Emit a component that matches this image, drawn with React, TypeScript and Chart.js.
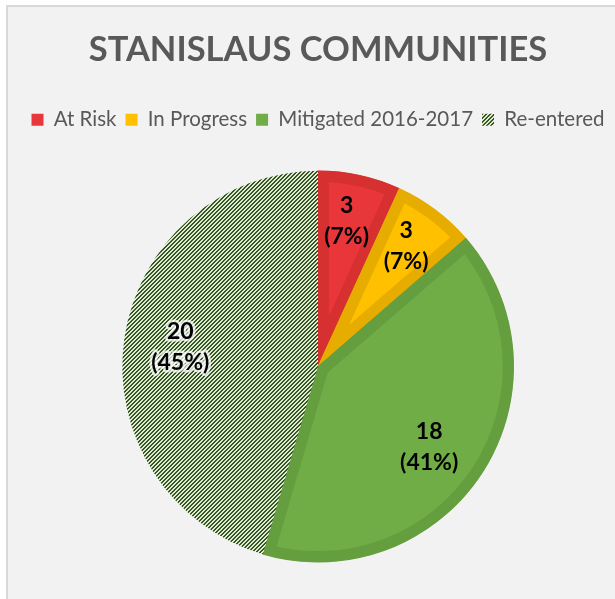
import React, { useEffect, useRef } from "react";
import { Chart, registerables } from "chart.js";

Chart.register(...registerables);

const TITLE = "STANISLAUS COMMUNITIES";
const categories = ["At Risk", "In Progress", "Mitigated 2016-2017", "Re-entered"];
const values = [3, 3, 18, 20];
const fillColors = ["#E8363A", "#FFC000", "#70AD47", "hatch"];
const borderColors = ["#D63031", "#E6AC00", "#659E3F", "rgba(0,0,0,0)"];
const borderWidths = [11, 11, 11, 0];
const labelRadius = [0.755, 0.76, 0.7, 0.71];
const labelAngleShift = [-0.02, -0.01, 0.055, 0];

const FONT = "Lato, 'Open Sans', sans-serif";

function makeHatch(): CanvasPattern | string {
  const c = document.createElement("canvas");
  const p = 4;
  c.width = p;
  c.height = p;
  const ctx = c.getContext("2d");
  if (!ctx) return "#375623";
  for (let x = 0; x < p; x++) {
    for (let y = 0; y < p; y++) {
      const k = (x + y) % p;
      ctx.fillStyle = k < 2 ? "#375623" : "#DDEBD3";
      ctx.fillRect(x, y, 1, 1);
    }
  }
  return ctx.createPattern(c, "repeat") || "#375623";
}

const labelPlugin = {
  id: "sliceLabels",
  afterDatasetsDraw(chart: any) {
    const ctx = chart.ctx;
    const meta = chart.getDatasetMeta(0);
    const data = chart.data.datasets[0].data as number[];
    const total = data.reduce((a, b) => a + b, 0);
    ctx.save();
    ctx.font = `bold 23px ${FONT}`;
    ctx.textAlign = "center";
    ctx.textBaseline = "middle";
    meta.data.forEach((arc: any, i: number) => {
      const { x, y, startAngle, endAngle, outerRadius } = arc.getProps(
        ["x", "y", "startAngle", "endAngle", "outerRadius"],
        true
      );
      const mid = (startAngle + endAngle) / 2 + labelAngleShift[i];
      const r = outerRadius * labelRadius[i];
      const cx = x + Math.cos(mid) * r;
      const cy = y + Math.sin(mid) * r;
      const lines = [String(data[i]), `(${Math.round((data[i] / total) * 100)}%)`];
      const lh = 31;
      lines.forEach((t, j) => {
        const ty = cy + (j - (lines.length - 1) / 2) * lh;
        if (i === 3) {
          ctx.strokeStyle = "rgba(255,255,255,0.75)";
          ctx.lineWidth = 5;
          ctx.lineJoin = "round";
          ctx.strokeText(t, cx, ty);
        }
        ctx.fillStyle = "#000000";
        ctx.fillText(t, cx, ty);
      });
    });
    ctx.restore();
  },
};

export default function App() {
  const ref = useRef<HTMLCanvasElement | null>(null);

  useEffect(() => {
    if (!ref.current) return;
    const hatch = makeHatch();
    const bg = fillColors.map((c) => (c === "hatch" ? hatch : c));
    const chart = new Chart(ref.current, {
      type: "pie",
      data: {
        labels: categories,
        datasets: [
          {
            data: values,
            backgroundColor: bg as any,
            borderColor: borderColors,
            borderWidth: borderWidths,
            borderAlign: "inner",
            radius: 196,
          } as any,
        ],
      },
      options: {
        animation: false,
        responsive: false,
        devicePixelRatio: 1,
        layout: { padding: { top: 0, bottom: 7, left: 0, right: 0 } },
        plugins: {
          title: {
            display: true,
            text: TITLE,
            color: "#595959",
            font: { family: FONT, size: 34.5, weight: "bold" },
            padding: { top: 22, bottom: 30 },
          },
          legend: {
            display: true,
            position: "top",
            labels: {
              color: "#595959",
              font: { family: FONT, size: 20.5 },
              boxWidth: 12,
              boxHeight: 12,
              padding: 9,
              generateLabels(chart: any) {
                const items = (Chart as any).overrides.pie.plugins.legend.labels.generateLabels(chart);
                return items.map((it: any) => ({ ...it, lineWidth: 0, strokeStyle: "rgba(0,0,0,0)" }));
              },
            },
            onClick: () => {},
          },
          tooltip: { enabled: false },
        },
      },
      plugins: [labelPlugin],
    });
    return () => chart.destroy();
  }, []);

  return (
    <div
      style={{
        position: "fixed",
        left: 0,
        top: 0,
        width: 615,
        height: 599,
        background: "#ffffff",
        overflow: "hidden",
      }}
    >
      <div
        style={{
          position: "absolute",
          left: 6,
          top: 5,
          width: 640,
          height: 640,
          background: "#F2F2F2",
          borderLeft: "2px solid #D9D9D9",
          borderTop: "2px solid #D9D9D9",
        }}
      />
      <canvas
        ref={ref}
        width={620}
        height={593}
        style={{ position: "absolute", left: 8, top: 7, width: 620, height: 593 }}
      />
    </div>
  );
}
